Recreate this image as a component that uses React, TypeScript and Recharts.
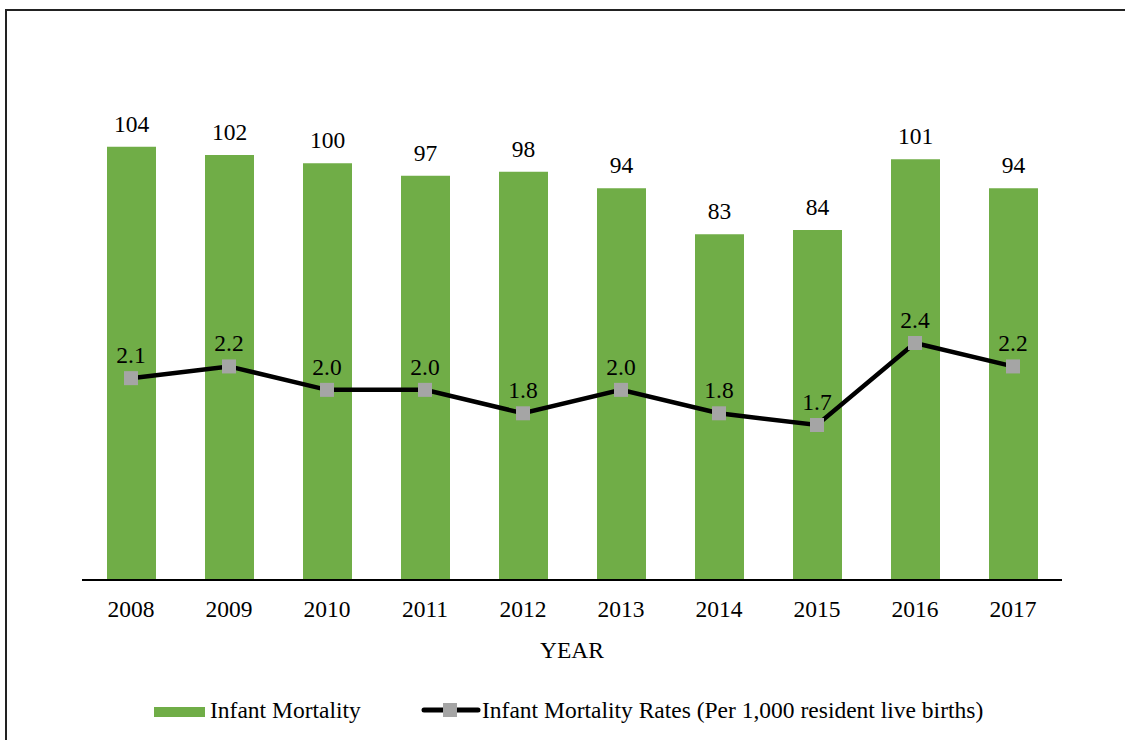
import React from 'react';
import { ComposedChart, Bar, Line, XAxis, YAxis, LabelList } from 'recharts';

const years = ['2008', '2009', '2010', '2011', '2012', '2013', '2014', '2015', '2016', '2017'];
const infantMortality = [104, 102, 100, 97, 98, 94, 83, 84, 101, 94];
const mortalityRates = [2.1, 2.2, 2.0, 2.0, 1.8, 2.0, 1.8, 1.7, 2.4, 2.2];
const seriesNames = ['Infant Mortality', 'Infant Mortality Rates (Per 1,000 resident live births)'];
const axisTitle = 'YEAR';

const data = years.map((y, i) => ({ year: y, deaths: infantMortality[i], rate: mortalityRates[i] }));

const FONT = "'Times New Roman', Times, 'Liberation Serif', serif";
const FS = 23.5;
const GREEN = '#70AD47';
const GRAY = '#A5A5A5';

const SquareDot = (props: any) => {
  const { cx, cy, index } = props;
  if (cx == null || cy == null) return null;
  return <rect key={`d-${index}`} x={cx - 7} y={cy - 7} width={14} height={14} fill={GRAY} />;
};

export default function App() {
  return (
    <div style={{ position: 'absolute', left: 0, top: 0, width: 1125, height: 740, overflow: 'hidden', background: '#fff' }}>
      <div style={{ position: 'absolute', left: 5, top: 9, width: 1140, height: 760, border: '2px solid #222', boxSizing: 'border-box' }} />
      <div style={{ position: 'absolute', left: 0, top: 0 }}>
        <ComposedChart width={1125} height={740} data={data} margin={{ top: 80, right: 63, left: 82, bottom: 80 }}>
          <XAxis
            dataKey="year"
            xAxisId="x"
            height={80}
            tickLine={false}
            axisLine={{ stroke: '#000', strokeWidth: 1.8 }}
            tick={{ fill: '#000', fontFamily: FONT, fontSize: FS }}
            tickMargin={14}
            label={{ value: axisTitle, position: 'insideBottom', offset: 2, fill: '#000', fontFamily: FONT, fontSize: FS }}
          />
          <YAxis yAxisId="left" hide domain={[0, 120]} allowDataOverflow />
          <YAxis yAxisId="right" orientation="right" hide domain={[0.377, 4.645]} allowDataOverflow type="number" />
          <Bar xAxisId="x" yAxisId="left" dataKey="deaths" name={seriesNames[0]} fill={GREEN} barSize={49} isAnimationActive={false}>
            <LabelList dataKey="deaths" position="top" offset={15} fill="#000" fontFamily={FONT} fontSize={FS} />
          </Bar>
          <Line
            xAxisId="x"
            yAxisId="right"
            dataKey="rate"
            name={seriesNames[1]}
            stroke="#000"
            strokeWidth={4.5}
            dot={SquareDot}
            activeDot={false}
            isAnimationActive={false}
          >
            <LabelList
              dataKey="rate"
              position="top"
              offset={15}
              fill="#000"
              fontFamily={FONT}
              fontSize={FS}
              formatter={(v: any) => Number(v).toFixed(1)}
            />
          </Line>
        </ComposedChart>
      </div>
      <div style={{ position: 'absolute', left: 154, top: 707, width: 51, height: 10, background: GREEN }} />
      <div style={{ position: 'absolute', left: 210, top: 697, lineHeight: '26px', fontFamily: FONT, fontSize: FS, color: '#000', whiteSpace: 'nowrap' }}>
        {seriesNames[0]}
      </div>
      <svg style={{ position: 'absolute', left: 421, top: 702 }} width={60} height={16}>
        <line x1={3} y1={8} x2={57} y2={8} stroke="#000" strokeWidth={5} strokeLinecap="round" />
        <rect x={22} y={1} width={14} height={14} fill={GRAY} />
      </svg>
      <div style={{ position: 'absolute', left: 482, top: 697, lineHeight: '26px', fontFamily: FONT, fontSize: FS, color: '#000', whiteSpace: 'nowrap' }}>
        {seriesNames[1]}
      </div>
    </div>
  );
}
